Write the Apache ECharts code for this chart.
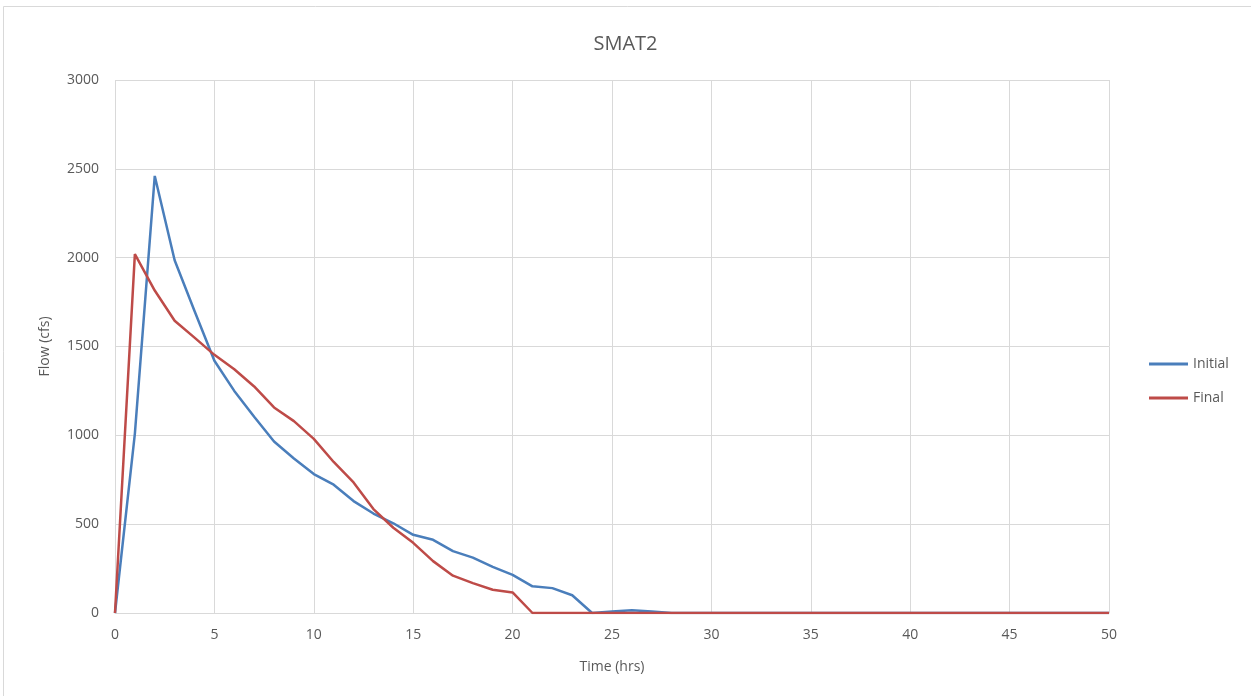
<!DOCTYPE html>
<html>
<head>
<meta charset="utf-8">
<script src="https://cdn.jsdelivr.net/npm/echarts@6/dist/echarts.min.js"></script>
<style>html,body{margin:0;padding:0;background:#fff}#c{width:1251px;height:696px}</style>
</head>
<body>
<div id="c"></div>
<script>
const timeHrs = [0,1,2,3,4,5,6,7,8,9,10,11,12,13,14,15,16,17,18,19,20,21,22,23,24,25,26,27,28,29,30,31,32,33,34,35,36,37,38,39,40,41,42,43,44,45,46,47,48,49,50];
const initialFlow = [0,1010,2460,1985,1700,1420,1250,1105,965,870,782,722,630,560,505,440,412,348,312,260,215,150,140,100,0,8,15,8,0,0,0,0,0,0,0,0,0,0,0,0,0,0,0,0,0,0,0,0,0,0,0];
const finalFlow = [0,2020,1815,1645,1550,1453,1372,1275,1157,1080,980,850,735,585,480,395,292,210,168,131,116,0,0,0,0,0,0,0,0,0,0,0,0,0,0,0,0,0,0,0,0,0,0,0,0,0,0,0,0,0,0];
const seriesNames = ['Initial','Final'];
const chartTitle = 'SMAT2';

const font = '"Open Sans", "Noto Sans", sans-serif';
const pair = (ys) => timeHrs.map((t,i)=>[t, ys[i]]);
const chart = echarts.init(document.getElementById('c'));
chart.setOption({
  animation:false,
  backgroundColor:'#fff',
  title:{text:chartTitle,left:'center',top:29,textStyle:{fontFamily:font,fontSize:20,fontWeight:'normal',color:'#595959'}},
  graphic:[{type:'rect',shape:{x:3.5,y:6.5,width:1260,height:700},style:{fill:'none',stroke:'#D9D9D9',lineWidth:1},silent:true}],
  grid:{left:115,right:142,top:80,bottom:83},
  legend:{orient:'vertical',left:1144,top:351,icon:'rect',itemWidth:39,itemHeight:3,itemGap:18,
    textStyle:{fontFamily:font,fontSize:14,color:'#595959',lineHeight:16},data:seriesNames},
  xAxis:{type:'value',min:0,max:50,interval:5,name:'Time (hrs)',nameLocation:'middle',nameGap:47,
    nameTextStyle:{fontFamily:font,fontSize:14,color:'#595959'},
    axisLine:{show:true,lineStyle:{color:'#D9D9D9',width:1}},axisTick:{show:false},
    axisLabel:{fontFamily:font,fontSize:14,color:'#595959',margin:15},
    splitLine:{show:true,lineStyle:{color:'#D9D9D9',width:1}}},
  yAxis:{type:'value',min:0,max:3000,interval:500,name:'Flow (cfs)',nameLocation:'middle',nameGap:63,nameRotate:90,
    nameTextStyle:{fontFamily:font,fontSize:14,color:'#595959'},
    axisLine:{show:false},axisTick:{show:false},
    axisLabel:{fontFamily:font,fontSize:14,color:'#595959',margin:16,formatter:(v)=>String(v)},
    splitLine:{show:true,lineStyle:{color:'#D9D9D9',width:1}}},
  series:[
    {name:seriesNames[0],type:'line',data:pair(initialFlow),symbol:'none',lineStyle:{color:'#4A7EBB',width:2.5},itemStyle:{color:'#4A7EBB'}},
    {name:seriesNames[1],type:'line',data:pair(finalFlow),symbol:'none',lineStyle:{color:'#BE4B48',width:2.5},itemStyle:{color:'#BE4B48'}}
  ]
});
</script>
</body>
</html>
